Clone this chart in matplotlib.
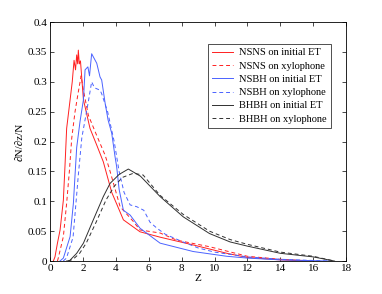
import numpy as np
import matplotlib
matplotlib.use('Agg')
from matplotlib import pyplot as plt

# values
z_nsns = [0.2, 0.3, 0.45, 0.61, 0.81, 0.91, 1.01, 1.22, 1.35, 1.46, 1.55, 1.62, 1.68, 1.72, 1.78, 1.85, 2.03,
          2.43, 2.84, 3.24, 3.5, 3.75, 4.06, 4.46, 5.47, 6.69, 8.7, 10.75, 12.0, 14.0, 16.0]
nsns_et = [0.0, 0.007, 0.03, 0.052, 0.102, 0.16, 0.222, 0.27, 0.30, 0.336, 0.32, 0.345, 0.33, 0.353, 0.33, 0.335,
           0.27, 0.222, 0.194, 0.166, 0.14, 0.115, 0.095, 0.069, 0.049, 0.04, 0.027, 0.013, 0.006, 0.002, 0.0]
z_nsns_x = [0.45, 0.5, 0.81, 1.01, 1.18, 1.32, 1.52, 1.7, 1.89, 2.0, 2.33, 2.84, 3.35, 3.6, 4.26, 5.07, 5.47,
            6.69, 7.7, 9.7, 12.0, 14.0, 16.0]
nsns_xy = [0.0, 0.005, 0.041, 0.097, 0.152, 0.206, 0.25, 0.28, 0.31, 0.29, 0.244, 0.21, 0.177, 0.155, 0.091,
           0.066, 0.052, 0.047, 0.035, 0.024, 0.008, 0.003, 0.0]

z_nsbh = [0.6, 0.81, 1.22, 1.42, 1.52, 1.62, 1.82, 2.03, 2.13, 2.3, 2.4, 2.53, 2.84, 3.04, 3.14, 3.35, 3.53,
          3.75, 3.95, 4.05, 4.2, 4.46, 4.87, 5.47, 6.69, 8.7, 10.75, 12.0, 14.0, 17.0]
nsbh_et = [0.0, 0.005, 0.041, 0.097, 0.144, 0.19, 0.233, 0.27, 0.32, 0.325, 0.31, 0.347, 0.331, 0.308, 0.303,
           0.264, 0.236, 0.214, 0.175, 0.158, 0.12, 0.085, 0.077, 0.055, 0.03, 0.016, 0.008, 0.005, 0.002, 0.0]
z_nsbh_x = [0.8, 1.0, 1.4, 1.72, 1.93, 2.33, 2.53, 2.7, 3.04, 3.14, 3.5, 3.9, 4.2, 4.5, 4.87, 5.27, 5.7, 6.08,
            6.5, 7.0, 8.0, 9.0, 10.0, 12.0, 14.0, 17.0]
nsbh_xy = [0.0, 0.005, 0.04, 0.144, 0.206, 0.267, 0.30, 0.29, 0.286, 0.28, 0.25, 0.20, 0.15, 0.115, 0.094,
           0.091, 0.085, 0.065, 0.055, 0.045, 0.033, 0.022, 0.015, 0.007, 0.003, 0.0]

z_bhbh = [1.0, 1.2, 1.62, 2.03, 2.63, 3.24, 3.65, 4.2, 4.76, 5.5, 6.69, 8.1, 9.7, 10.95, 12.0, 14.0, 16.0, 17.3]
bhbh_et = [0.0, 0.001, 0.013, 0.03, 0.069, 0.108, 0.13, 0.145, 0.154, 0.142, 0.108, 0.074, 0.046, 0.032, 0.025,
           0.013, 0.007, 0.0]
z_bhbh_x = [1.1, 1.4, 1.8, 2.2, 2.8, 3.4, 3.9, 4.4, 5.07, 5.66, 6.69, 8.1, 9.7, 10.95, 12.0, 14.0, 16.0, 17.3]
bhbh_xy = [0.0, 0.003, 0.013, 0.03, 0.065, 0.102, 0.125, 0.14, 0.147, 0.144, 0.11, 0.078, 0.05, 0.036, 0.028,
           0.015, 0.008, 0.0]

plt.rcParams['font.family'] = ['Liberation Serif', 'DejaVu Serif']

fig = plt.figure(figsize=(3.82, 2.94), dpi=100)
ax = fig.add_axes([0.131, 0.112, 0.775, 0.813])

red = '#ff2020'
blue = '#4a62ff'
blk = '#303030'
lw = 0.7
dash = (0, (4, 3))
ax.plot(z_nsns, nsns_et, color=red, lw=lw, label='NSNS on initial ET')
ax.plot(z_nsns_x, nsns_xy, color=red, lw=lw, ls=dash, label='NSNS on xylophone')
ax.plot(z_nsbh, nsbh_et, color=blue, lw=lw, label='NSBH on initial ET')
ax.plot(z_nsbh_x, nsbh_xy, color=blue, lw=lw, ls=dash, label='NSBH on xylophone')
ax.plot(z_bhbh, bhbh_et, color=blk, lw=lw, label='BHBH on initial ET')
ax.plot(z_bhbh_x, bhbh_xy, color=blk, lw=lw, ls=dash, label='BHBH on xylophone')

ax.set_xlim(0, 18)
ax.set_ylim(0, 0.4)
ax.set_xticks(np.arange(0, 19, 2))
ax.set_yticks(np.arange(0, 0.41, 0.05))
ax.set_yticklabels(['0', '0.05', '0.1', '0.15', '0.2', '0.25', '0.3', '0.35', '0.4'])
ax.tick_params(direction='in', top=True, right=True, labelsize=8, length=3, width=0.5, pad=2)
for s in ax.spines.values():
    s.set_linewidth(0.6)
ax.set_xlabel('Z', fontsize=8, labelpad=1)
ax.set_ylabel('∂N/∂z/N', fontsize=8, labelpad=2)

leg = ax.legend(loc='upper left', bbox_to_anchor=(0.534, 0.908), fontsize=7.5, frameon=True, fancybox=False,
                edgecolor='black', handlelength=2.0, handletextpad=0.55, borderpad=0.4, labelspacing=0.38,
                borderaxespad=0)
leg.get_frame().set_linewidth(0.6)

fig.savefig('out.png', dpi=100)
